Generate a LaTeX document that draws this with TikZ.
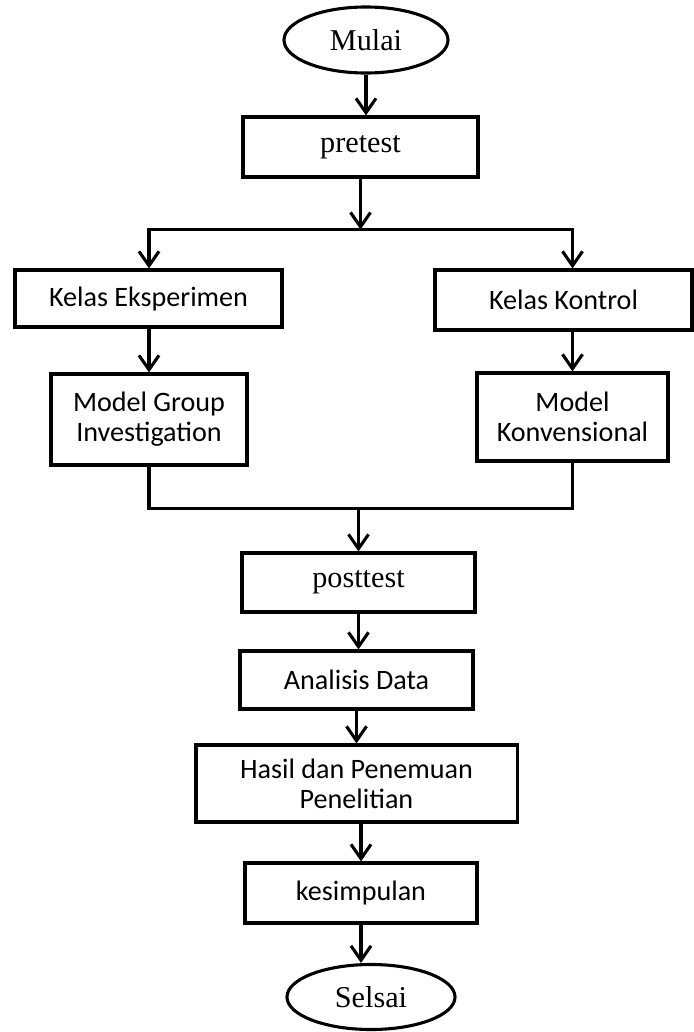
\documentclass[tikz,border=0pt]{standalone}
\usepackage{fontspec}
\setmainfont{Liberation Serif}
\newfontfamily\calibri{Carlito}
\usetikzlibrary{positioning,arrows.meta,shapes.geometric,calc}

\begin{document}
\begin{tikzpicture}[
  x=0.025cm, y=-0.025cm,
  font=\fontsize{21.5}{24}\selectfont,
  box/.style={draw=black, line width=2.2pt, align=center, inner sep=2pt, fill=white},
  sansbox/.style={box, font=\calibri\fontsize{20}{21.5}\selectfont},
  terminal/.style={ellipse, draw=black, line width=2.2pt, inner sep=0pt, fill=white},
  line/.style={draw=black, line width=2.2pt},
  flow/.style={line, -{Straight Barb[length=3.6mm,width=5mm]}},
  ]
  \useasboundingbox (0,0) rectangle (693,1032);

  % Start and pretest.
  \node[terminal, minimum width=4.1cm, minimum height=1.65cm] (mulai) at (366,40) {Mulai};
  \node[box, minimum width=5.875cm, minimum height=1.5cm] (pretest) at (360.5,147) {pretest};

  % Two classes, two models.
  \node[sansbox, minimum width=6.675cm, minimum height=1.425cm] (eksp) at (148.5,298.5) {Kelas Eksperimen};
  \node[sansbox, minimum width=6.425cm, minimum height=1.5cm] (kontrol) at (563.5,300) {Kelas Kontrol};
  \node[sansbox, minimum width=4.9cm, minimum height=2.275cm] (gi) at (149,419.5) {Model Group\\Investigation};
  \node[sansbox, minimum width=4.775cm, minimum height=2.2cm] (konv) at (572.5,417) {Model\\Konvensional};

  % Posttest down to the end.
  \node[box, minimum width=5.825cm, minimum height=1.475cm] (posttest) at (358.5,582.5) {posttest};
  \node[sansbox, minimum width=5.825cm, minimum height=1.45cm] (analisis) at (356.5,680) {Analisis Data};
  \node[sansbox, minimum width=8.025cm, minimum height=1.925cm] (hasil) at (356.5,783.5) {Hasil dan Penemuan\\Penelitian};
  \node[sansbox, minimum width=5.8cm, minimum height=1.5cm] (simpul) at (361,893) {kesimpulan};
  \node[terminal, minimum width=4.2cm, minimum height=1.625cm] (selsai) at (371,997) {Selsai};

  \draw[flow] (mulai.south) -- (mulai.south |- pretest.north);

  % Split into the two classes.
  \coordinate (split) at ($(pretest.south)+(0,51)$);
  \draw[flow] (pretest.south) -- (split);
  \draw[flow] (split) -| (gi |- eksp.north);
  \draw[flow] (split) -| (konv |- kontrol.north);
  \draw[flow] (gi |- eksp.south) -- (gi);
  \draw[flow] (konv |- kontrol.south) -- (konv);

  % Join again before posttest.
  \coordinate (join) at ($(posttest.north)+(0,-43)$);
  \draw[line] (gi) |- (join) -| (konv);
  \draw[flow] (join) -- (posttest);

  \draw[flow] (posttest.south) -- (posttest.south |- analisis.north);
  \draw[flow] (analisis.south) -- (analisis.south |- hasil.north);
  \draw[flow] (simpul |- hasil.south) -- (simpul);
  \draw[flow] (simpul.south) -- (simpul.south |- selsai.north);
\end{tikzpicture}
\end{document}
